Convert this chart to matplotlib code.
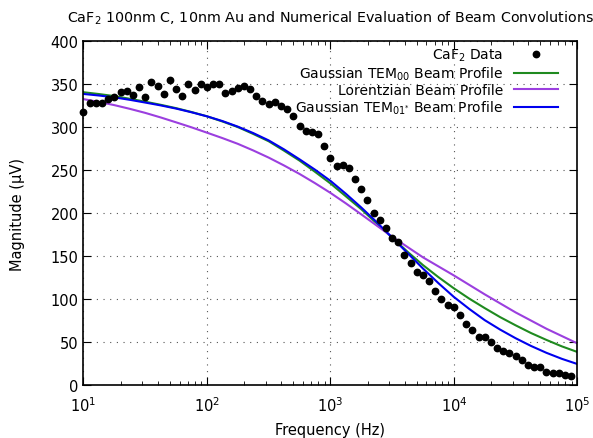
import matplotlib
matplotlib.use('Agg')
import matplotlib.pyplot as plt
import numpy as np

#CaF2 sample, measured magnitude vs. three beam convolution models.
#Data points are 20 per decade, curves read every eighth of a decade.

dataExponents = [1 + i / 20 for i in range(80)]
dataMagnitude = [318, 328, 329, 329, 333, 336, 341, 343, 338, 347,
	336, 353, 348, 339, 355, 345, 337, 351, 344, 351,
	347, 350, 350, 340, 342, 346, 348, 345, 337, 331,
	327, 330, 325, 321, 313, 302, 296, 295, 293, 279,
	265, 255, 256, 253, 240, 229, 216, 201, 192, 183,
	172, 167, 152, 142, 132, 128, 121, 110, 100, 94,
	91, 82, 72, 65, 56, 56, 50, 44, 40, 38,
	34, 30, 24, 22, 21, 16, 15, 15, 12, 11]

curveExponents = [1 + k / 8 for k in range(33)]
gaussian00 = [341, 338.9, 336.5, 333.4, 330, 326.4, 322.5, 318, 313,
	307, 300.5, 292.5, 284, 273, 261.5, 248.5, 235,
	220, 205, 188.5, 172, 155.5, 140, 126, 113,
	101, 90, 79.5, 70, 61, 53, 45.5, 39]
lorentzian = [333, 329.7, 326, 321.7, 317, 311.7, 306, 300.2, 294,
	287.7, 281, 273.3, 265, 255.8, 246, 235.3, 224,
	211.8, 199, 186, 173, 161, 149, 138.5, 128,
	117, 106, 95.5, 85, 75.5, 66, 57.5, 49]
gaussian01 = [339, 337.2, 335, 332.2, 329, 325.7, 322, 317.7, 313,
	307.5, 301, 293.5, 285, 274.5, 263, 251, 238,
	223, 207, 190, 172, 154, 136, 119, 103,
	89, 76, 65, 55, 46, 38, 31, 25]

def makePlot():
	fig = plt.figure(figsize=(5.93, 4.39), dpi=100)
	ax = fig.add_axes([0.1408, 0.1196, 0.8327, 0.7836])
	dataFreq = np.power(10.0, dataExponents)
	curveFreq = np.power(10.0, curveExponents)

	ax.plot(dataFreq, dataMagnitude, 'o', color='black', markersize=4.6, label='CaF$_2$ Data', clip_on=False, zorder=5)
	ax.plot(curveFreq, gaussian00, color='#1f8a1f', lw=1.5, label='Gaussian TEM$_{00}$ Beam Profile')
	ax.plot(curveFreq, lorentzian, color='#9b3fdf', lw=1.5, label='Lorentzian Beam Profile')
	ax.plot(curveFreq, gaussian01, color='#0000ee', lw=1.5, label='Gaussian TEM$_{01^{*}}$ Beam Profile')

	ax.set_xscale('log')
	ax.set_xlim(10, 1e5)
	ax.set_ylim(0, 400)
	ax.set_yticks(range(0, 401, 50))
	#gnuplot look: inward ticks on every side, dotted grid on the majors
	ax.tick_params(which='both', direction='in', top=True, right=True, labelsize=10.5)
	ax.tick_params(which='major', length=6)
	ax.tick_params(which='minor', length=3)
	ax.tick_params(axis='x', pad=7)
	ax.grid(True, which='major', color='#555555', linestyle=(0, (1, 5)), linewidth=0.8)
	for side in ax.spines.values():
		side.set_linewidth(1.2)

	ax.set_xlabel('Frequency (Hz)', fontsize=10.5, labelpad=6)
	ax.set_ylabel('Magnitude (\u03bcV)', fontsize=10.5)
	ax.yaxis.set_label_coords(-0.118, 0.5)
	ax.set_title('CaF$_2$ 100nm C, 10nm Au and Numerical Evaluation of Beam Convolutions', fontsize=10.3, pad=14)

	ax.legend(loc='upper right', bbox_to_anchor=(0.961, 0.985), frameon=False, markerfirst=False, fontsize=10,
		handlelength=3.2, labelspacing=0.1, borderaxespad=0, borderpad=0, handletextpad=0.75)

	fig.savefig('out.png', dpi=100)

makePlot()
